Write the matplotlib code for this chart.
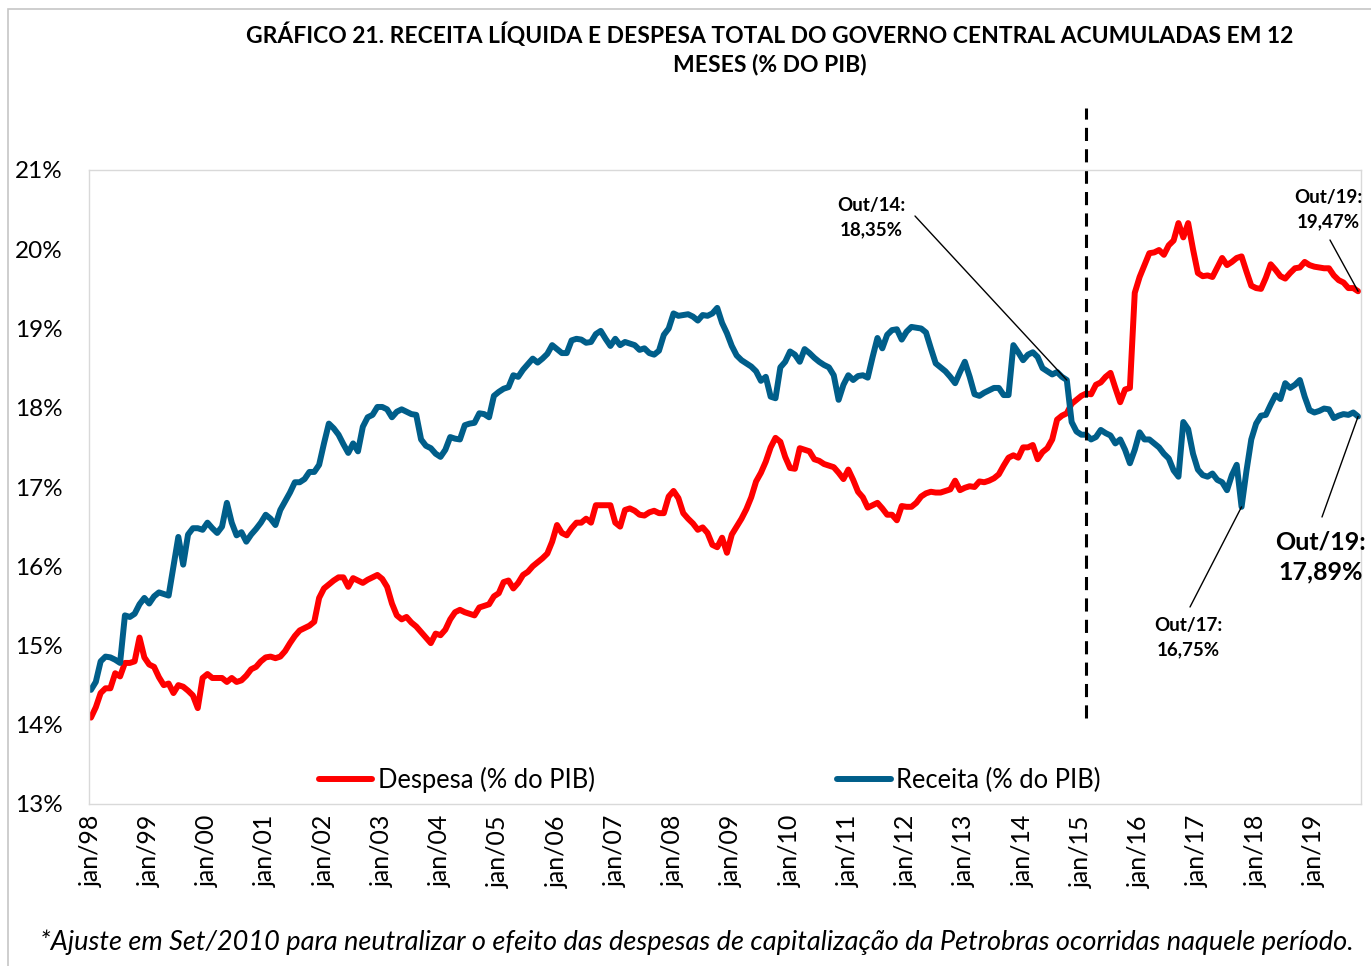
import matplotlib
matplotlib.use("Agg")
import matplotlib.pyplot as plt
from matplotlib.patches import Rectangle
import numpy as np

plt.rcParams['font.family'] = ['Lato', 'DejaVu Sans']

# 12-month accumulated values (% of GDP), monthly jan/98 .. out/19
despesa = [
    14.09, 14.22, 14.40, 14.46, 14.46, 14.65, 14.61, 14.78, 14.78, 14.80, 15.10, 14.85,  # 1998
    14.76, 14.73, 14.60, 14.50, 14.52, 14.40, 14.50, 14.48, 14.43, 14.37, 14.21, 14.59,  # 1999
    14.64, 14.59, 14.59, 14.59, 14.54, 14.59, 14.54, 14.56, 14.62, 14.70, 14.73, 14.80,  # 2000
    14.85, 14.86, 14.84, 14.86, 14.93, 15.03, 15.12, 15.19, 15.22, 15.25, 15.30, 15.60,  # 2001
    15.72, 15.77, 15.82, 15.86, 15.86, 15.74, 15.85, 15.82, 15.79, 15.83, 15.86, 15.89,  # 2002
    15.84, 15.74, 15.53, 15.38, 15.33, 15.36, 15.29, 15.24, 15.17, 15.10, 15.03, 15.15,  # 2003
    15.13, 15.20, 15.33, 15.42, 15.45, 15.42, 15.40, 15.38, 15.48, 15.50, 15.52, 15.62,  # 2004
    15.66, 15.80, 15.82, 15.72, 15.79, 15.89, 15.93, 16.00, 16.05, 16.10, 16.16, 16.31,  # 2005
    16.52, 16.42, 16.39, 16.48, 16.55, 16.55, 16.60, 16.55, 16.77, 16.77, 16.77, 16.77,  # 2006
    16.55, 16.50, 16.71, 16.73, 16.70, 16.65, 16.64, 16.68, 16.70, 16.67, 16.67, 16.88,  # 2007
    16.95, 16.86, 16.67, 16.60, 16.54, 16.46, 16.49, 16.42, 16.27, 16.24, 16.36, 16.17,  # 2008
    16.40, 16.50, 16.60, 16.72, 16.87, 17.07, 17.18, 17.32, 17.50, 17.62, 17.57, 17.38,  # 2009
    17.24, 17.23, 17.49, 17.47, 17.45, 17.35, 17.33, 17.29, 17.27, 17.25, 17.18, 17.10,  # 2010
    17.22, 17.09, 16.94, 16.87, 16.74, 16.77, 16.80, 16.73, 16.65, 16.65, 16.58, 16.76,  # 2011
    16.75, 16.75, 16.80, 16.88, 16.92, 16.94, 16.93, 16.93, 16.95, 16.97, 17.08, 16.96,  # 2012
    16.99, 17.01, 17.00, 17.07, 17.06, 17.08, 17.11, 17.16, 17.27, 17.37, 17.40, 17.37,  # 2013
    17.50, 17.50, 17.53, 17.35, 17.44, 17.49, 17.60, 17.85, 17.90, 17.93, 18.05, 18.10,  # 2014
    18.15, 18.18, 18.17, 18.29, 18.32, 18.39, 18.44, 18.25, 18.07, 18.23, 18.25, 19.45,  # 2015
    19.65, 19.80, 19.95, 19.96, 19.99, 19.93, 20.05, 20.11, 20.33, 20.15, 20.33, 20.00,  # 2016
    19.70, 19.66, 19.67, 19.65, 19.77, 19.89, 19.80, 19.84, 19.89, 19.91, 19.72, 19.54,  # 2017
    19.51, 19.50, 19.64, 19.81, 19.74, 19.66, 19.63, 19.70, 19.76, 19.77, 19.84, 19.80,  # 2018
    19.78, 19.77, 19.76, 19.76, 19.67, 19.61, 19.58, 19.51, 19.51, 19.47,                # 2019
]
receita = [
    14.44, 14.54, 14.80, 14.86, 14.85, 14.82, 14.78, 15.38, 15.36, 15.40, 15.52, 15.60,  # 1998
    15.53, 15.62, 15.67, 15.65, 15.63, 16.00, 16.37, 16.02, 16.40, 16.48, 16.48, 16.46,  # 1999
    16.55, 16.48, 16.42, 16.50, 16.80, 16.55, 16.39, 16.43, 16.31, 16.40, 16.47, 16.55,  # 2000
    16.65, 16.60, 16.52, 16.71, 16.82, 16.93, 17.06, 17.06, 17.10, 17.19, 17.19, 17.28,  # 2001
    17.55, 17.80, 17.74, 17.66, 17.54, 17.43, 17.55, 17.45, 17.76, 17.88, 17.91, 18.01,  # 2002
    18.01, 17.98, 17.88, 17.95, 17.98, 17.95, 17.92, 17.91, 17.60, 17.52, 17.49, 17.42,  # 2003
    17.38, 17.47, 17.63, 17.61, 17.60, 17.78, 17.80, 17.81, 17.93, 17.92, 17.88, 18.15,  # 2004
    18.20, 18.24, 18.26, 18.41, 18.39, 18.48, 18.55, 18.62, 18.57, 18.62, 18.68, 18.79,  # 2005
    18.74, 18.69, 18.69, 18.85, 18.87, 18.86, 18.82, 18.83, 18.93, 18.97, 18.87, 18.78,  # 2006
    18.87, 18.79, 18.83, 18.81, 18.79, 18.73, 18.75, 18.69, 18.67, 18.72, 18.92, 19.00,  # 2007
    19.19, 19.16, 19.17, 19.18, 19.15, 19.10, 19.17, 19.16, 19.19, 19.26, 19.07, 18.94,  # 2008
    18.78, 18.66, 18.60, 18.56, 18.52, 18.46, 18.34, 18.39, 18.14, 18.12, 18.51, 18.58,  # 2009
    18.71, 18.67, 18.58, 18.74, 18.69, 18.63, 18.58, 18.54, 18.51, 18.41, 18.10, 18.29,  # 2010
    18.41, 18.35, 18.40, 18.41, 18.38, 18.64, 18.88, 18.75, 18.92, 18.98, 18.99, 18.86,  # 2011
    18.96, 19.02, 19.01, 19.00, 18.95, 18.75, 18.56, 18.51, 18.46, 18.39, 18.31, 18.45,  # 2012
    18.58, 18.39, 18.17, 18.15, 18.19, 18.22, 18.25, 18.25, 18.16, 18.16, 18.79, 18.70,  # 2013
    18.60, 18.67, 18.70, 18.64, 18.50, 18.46, 18.42, 18.45, 18.39, 18.35, 17.82, 17.70,  # 2014
    17.66, 17.66, 17.60, 17.63, 17.72, 17.68, 17.65, 17.55, 17.60, 17.47, 17.30, 17.47,  # 2015
    17.69, 17.60, 17.60, 17.55, 17.50, 17.42, 17.36, 17.21, 17.13, 17.82, 17.73, 17.42,  # 2016
    17.22, 17.15, 17.13, 17.17, 17.09, 17.06, 16.96, 17.15, 17.28, 16.75, 17.20, 17.60,  # 2017
    17.80, 17.90, 17.91, 18.04, 18.16, 18.11, 18.31, 18.25, 18.29, 18.35, 18.14, 17.97,  # 2018
    17.94, 17.96, 17.99, 17.98, 17.87, 17.90, 17.92, 17.91, 17.94, 17.89,                # 2019
]
anos = ['98', '99', '00', '01', '02', '03', '04', '05', '06', '07', '08',
        '09', '10', '11', '12', '13', '14', '15', '16', '17', '18', '19']
tick_labels = ['jan/' + a for a in anos]

idx = np.arange(len(despesa))
i_out14 = 201
i_out17 = 237
i_ruptura = 205

fig = plt.figure(figsize=(13.71, 9.66), dpi=100)
ax = fig.add_axes([89/1371, 1-804/966, 1272/1371, 634/966])

ax.plot(idx, despesa, color='#FF0000', lw=4.3, label='Despesa (% do PIB)', solid_capstyle='round')
ax.plot(idx, receita, color='#005E8A', lw=4.3, label='Receita (% do PIB)', solid_capstyle='round')

ax.set_xlim(-0.4, len(idx) - 1 + 0.6)
ax.set_ylim(13, 21)
ax.set_yticks(np.arange(13, 22, 1))
ax.set_yticklabels([f'{v}%' for v in range(13, 22)], fontsize=17.5)
ax.set_xticks(np.arange(0, len(idx), 12))
ax.set_xticklabels(tick_labels, rotation=90, fontsize=18)
ax.tick_params(axis='both', length=0)
ax.tick_params(axis='y', pad=19)
ax.tick_params(axis='x', pad=8)
for s in ax.spines.values():
    s.set_color('#D9D9D9')
    s.set_linewidth(1)

# dashed separator
ax.axvline(i_ruptura, ymin=(804-718)/634, ymax=(804-108)/634, color='black',
           lw=2.2, dashes=(4.3, 2.7), clip_on=False)

ax.legend(loc='center', bbox_to_anchor=(0.488, 0.038), ncol=2, frameon=False,
          fontsize=18.4, handlelength=2.1, handletextpad=0.2, columnspacing=9.5)

# annotations
def nota(i, v, x0, y0):
    ax.annotate('', xy=(i, v), xytext=(x0, 966 - y0), textcoords='figure pixels',
                arrowprops=dict(arrowstyle='-', color='black', lw=1, shrinkA=0, shrinkB=0))

nota(i_out14, receita[i_out14], 915, 216)
nota(i_out17, receita[i_out17], 1190, 607)
nota(idx[-1], despesa[-1], 1330, 240)
nota(idx[-1], receita[-1], 1322, 517)

fig.text(871/1371, 1-218/966, 'Out/14:\n18,35%', ha='center', va='center',
         fontsize=13.5, fontweight='bold', linespacing=1.5)
fig.text(1188/1371, 1-638/966, 'Out/17:\n16,75%', ha='center', va='center',
         fontsize=13.5, fontweight='bold', linespacing=1.5)
fig.text(1328/1371, 1-210/966, 'Out/19:\n19,47%', ha='center', va='center',
         fontsize=13.5, fontweight='bold', linespacing=1.5)
fig.text(1321/1371, 1-557/966, 'Out/19:\n17,89%', ha='center', va='center',
         fontsize=18, fontweight='bold', linespacing=1.4)

fig.text(770/1371, 1-49/966,
         'GRÁFICO 21. RECEITA LÍQUIDA E DESPESA TOTAL DO GOVERNO CENTRAL ACUMULADAS EM 12\nMESES (% DO PIB)',
         ha='center', va='center', fontsize=16.5, fontweight='bold', linespacing=1.4)
fig.text(697/1371, 1-942/966,
         '*Ajuste em Set/2010 para neutralizar o efeito das despesas de capitalização da Petrobras ocorridas naquele período.',
         ha='center', va='center', fontsize=19.5, style='italic')

# chart border
fig.patches.append(Rectangle((8/1371, -0.1), 1.2, 1 - 9/966 + 0.1, transform=fig.transFigure,
                             fill=False, edgecolor='#C6C6C6', lw=1.2))

fig.savefig('out.png', dpi=100)
